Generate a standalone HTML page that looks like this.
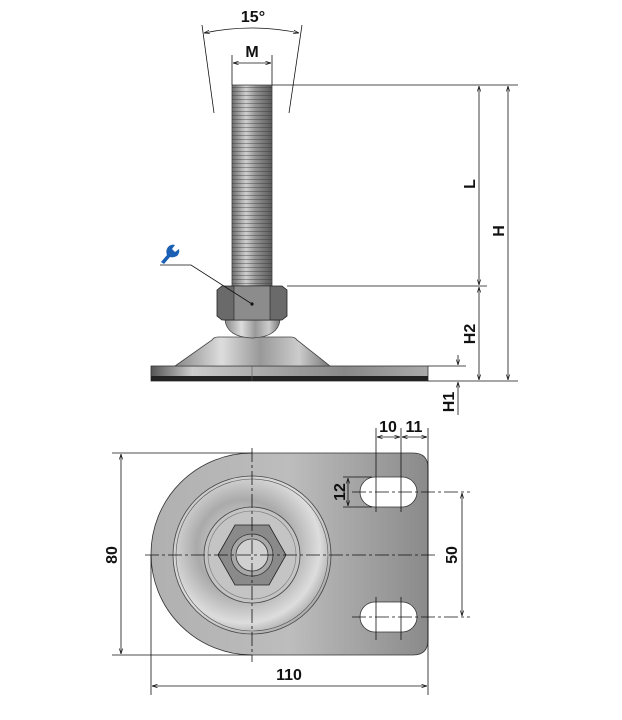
<!DOCTYPE html>
<html><head><meta charset="utf-8"><style>
html,body{margin:0;padding:0;background:#fff;}
svg{display:block;}
text{font-family:"Liberation Sans",sans-serif;font-weight:bold;font-size:16px;fill:#111;}
</style></head><body>
<svg width="622" height="720" viewBox="0 0 622 720" xmlns="http://www.w3.org/2000/svg">
<defs>
<linearGradient id="bolt" x1="0" x2="1" y1="0" y2="0">
<stop offset="0" stop-color="#6d6d6d"/><stop offset="0.35" stop-color="#cfcfcf"/><stop offset="0.6" stop-color="#939393"/><stop offset="1" stop-color="#5a5a5a"/></linearGradient>
<pattern id="thr" width="4" height="4" patternUnits="userSpaceOnUse"><rect width="4" height="4" fill="none"/><line x1="0" y1="3.5" x2="4" y2="3.5" stroke="#333" stroke-opacity="0.4" stroke-width="1"/></pattern>
<linearGradient id="cone" x1="0" x2="1"><stop offset="0" stop-color="#888"/><stop offset="0.3" stop-color="#ddd"/><stop offset="0.55" stop-color="#999"/><stop offset="0.8" stop-color="#ccc"/><stop offset="1" stop-color="#777"/></linearGradient>
<linearGradient id="plateS" x1="0" x2="1"><stop offset="0" stop-color="#555"/><stop offset="0.15" stop-color="#ccc"/><stop offset="0.4" stop-color="#aaa"/><stop offset="0.7" stop-color="#888"/><stop offset="1" stop-color="#aaa"/></linearGradient>
<linearGradient id="plateT" x1="0" x2="1"><stop offset="0" stop-color="#b0b0b0"/><stop offset="0.5" stop-color="#bdbdbd"/><stop offset="1" stop-color="#8a8a8a"/></linearGradient>
<radialGradient id="disc" cx="0.45" cy="0.45" r="0.6"><stop offset="0" stop-color="#eee"/><stop offset="0.5" stop-color="#aaa"/><stop offset="0.8" stop-color="#ddd"/><stop offset="1" stop-color="#999"/></radialGradient>
<marker id="a" viewBox="0 0 10 10" refX="10" refY="5" markerWidth="7" markerHeight="7" orient="auto-start-reverse"><path d="M0,2 L10,5 L0,8" fill="none" stroke="#111" stroke-width="1.2"/></marker>
</defs>

<rect x="151" y="366" width="277" height="15" fill="url(#plateS)" stroke="#333" stroke-width="0.8"/>
<rect x="151" y="376" width="277" height="5" fill="#222"/>
<line x1="252" y1="366" x2="252" y2="381" stroke="#555" stroke-width="0.6"/>
<path d="M175,366 L212,340 Q214,337 218,337 L291,337 Q295,337 297,340 L330,366 Z" fill="url(#cone)" stroke="#444" stroke-width="0.8"/>
<path d="M225,320 L280,320 Q278,337 252,338 Q227,337 225,320 Z" fill="url(#cone)" stroke="#444" stroke-width="0.8"/>
<rect x="232" y="85" width="40" height="201" fill="url(#bolt)" stroke="#444" stroke-width="0.8"/>
<rect x="232" y="87" width="40" height="199" fill="url(#thr)"/>
<path d="M217,290 L222,286 L282,286 L287,290 L287,316 L282,320 L222,320 L217,316 Z" fill="#6a6a6a" stroke="#222" stroke-width="0.8"/>
<rect x="234" y="286" width="36" height="34" fill="#8c8c8c" stroke="#222" stroke-width="0.6"/>
<path d="M160,265 L191,265 L252,304" fill="none" stroke="#111" stroke-width="0.8"/>
<circle cx="252" cy="304" r="1.6" fill="#111"/>
<path d="M161,262 L167,255 Q165,250 169,246 Q172,244 175,245 L172,249 L175,252 L179,249 Q180,253 177,256 Q173,258 170,257 L164,264 Z" fill="#1b5fb5"/>
<line x1="272" y1="85" x2="518" y2="85" stroke="#111" stroke-width="0.8"/>
<line x1="287" y1="286" x2="487" y2="286" stroke="#111" stroke-width="0.8"/>
<line x1="428" y1="381" x2="518" y2="381" stroke="#111" stroke-width="0.8"/>
<line x1="428" y1="366" x2="466" y2="366" stroke="#111" stroke-width="0.8"/>
<line x1="479" y1="86" x2="479" y2="285" stroke="#111" stroke-width="0.8" marker-start="url(#a)" marker-end="url(#a)"/>
<line x1="479" y1="287" x2="479" y2="380" stroke="#111" stroke-width="0.8" marker-start="url(#a)" marker-end="url(#a)"/>
<line x1="508" y1="86" x2="508" y2="380" stroke="#111" stroke-width="0.8" marker-start="url(#a)" marker-end="url(#a)"/>
<line x1="458" y1="355" x2="458" y2="365" stroke="#111" stroke-width="0.8" marker-end="url(#a)"/>
<line x1="458" y1="415" x2="458" y2="382" stroke="#111" stroke-width="0.8" marker-end="url(#a)"/>
<text transform="translate(475,184) rotate(-90)" text-anchor="middle">L</text>
<text transform="translate(504,231) rotate(-90)" text-anchor="middle">H</text>
<text transform="translate(475,334) rotate(-90)" text-anchor="middle">H2</text>
<text transform="translate(454,402) rotate(-90)" text-anchor="middle">H1</text>
<line x1="232" y1="55" x2="232" y2="85" stroke="#111" stroke-width="0.8"/>
<line x1="272" y1="55" x2="272" y2="85" stroke="#111" stroke-width="0.8"/>
<line x1="233" y1="63" x2="271" y2="63" stroke="#111" stroke-width="0.8" marker-start="url(#a)" marker-end="url(#a)"/>
<text x="252" y="57" text-anchor="middle">M</text>
<line x1="202" y1="25" x2="214" y2="113" stroke="#111" stroke-width="0.8"/>
<line x1="302" y1="25" x2="289" y2="113" stroke="#111" stroke-width="0.8"/>
<path d="M204,33 Q252,23 299,33" fill="none" stroke="#111" stroke-width="0.8" marker-start="url(#a)" marker-end="url(#a)"/>
<text x="253" y="22" text-anchor="middle">15°</text>

<path d="M252,453 L413,453 Q428,453 428,468 L428,640 Q428,655 413,655 L252,655 A101,101 0 0 1 252,453 Z" fill="url(#plateT)" stroke="#333" stroke-width="0.8"/>
<circle cx="252" cy="555" r="79" fill="url(#disc)" stroke="#444" stroke-width="0.8"/>
<circle cx="252" cy="555" r="76" fill="none" stroke="#555" stroke-width="0.6"/>
<circle cx="252" cy="555" r="48" fill="#c4c4c4" stroke="#444" stroke-width="0.8"/>
<circle cx="252" cy="555" r="44" fill="none" stroke="#777" stroke-width="0.6"/>
<path d="M218,555 L235,525 L269,525 L286,555 L269,585 L235,585 Z" fill="#8a8a8a" stroke="#222" stroke-width="0.8"/>
<circle cx="252" cy="555" r="21" fill="#a8a8a8" stroke="#333" stroke-width="0.8"/>
<circle cx="252" cy="555" r="16" fill="#d0d0d0" stroke="#333" stroke-width="0.8"/>
<rect x="360" y="477" width="57" height="30" rx="15" fill="#fff" stroke="#333" stroke-width="0.8"/>
<rect x="360" y="602" width="57" height="30" rx="15" fill="#fff" stroke="#333" stroke-width="0.8"/>
<g stroke="#111" stroke-width="0.8" stroke-dasharray="14,3,3,3">
<line x1="145" y1="555" x2="435" y2="555"/>
<line x1="252" y1="448" x2="252" y2="662"/>
<line x1="352" y1="492" x2="470" y2="492"/>
<line x1="352" y1="617" x2="470" y2="617"/>
</g>
<g stroke="#111" stroke-width="0.8" fill="none">
<line x1="112" y1="453" x2="252" y2="453"/>
<line x1="112" y1="655" x2="252" y2="655"/>
<line x1="151" y1="555" x2="151" y2="695"/>
<line x1="428" y1="428" x2="428" y2="695"/>
<line x1="376" y1="428" x2="376" y2="512"/>
<line x1="401" y1="428" x2="401" y2="512"/>
<line x1="376" y1="597" x2="376" y2="640"/>
<line x1="401" y1="597" x2="401" y2="640"/>
<line x1="343" y1="477" x2="372" y2="477"/>
<line x1="343" y1="507" x2="372" y2="507"/>
<line x1="121" y1="454" x2="121" y2="654" marker-start="url(#a)" marker-end="url(#a)"/>
<line x1="152" y1="686" x2="427" y2="686" marker-start="url(#a)" marker-end="url(#a)"/>
<line x1="462" y1="493" x2="462" y2="616" marker-start="url(#a)" marker-end="url(#a)"/>
<line x1="377" y1="437" x2="400" y2="437" marker-start="url(#a)" marker-end="url(#a)"/>
<line x1="402" y1="437" x2="427" y2="437" marker-start="url(#a)" marker-end="url(#a)"/>
<line x1="348" y1="478" x2="348" y2="506" marker-start="url(#a)" marker-end="url(#a)"/>
</g>
<text transform="translate(117,555) rotate(-90)" text-anchor="middle">80</text>
<text transform="translate(457,555) rotate(-90)" text-anchor="middle">50</text>
<text transform="translate(345,492) rotate(-90)" text-anchor="middle">12</text>
<text x="289" y="680" text-anchor="middle">110</text>
<text x="388" y="432" text-anchor="middle">10</text>
<text x="414" y="432" text-anchor="middle">11</text>
</svg>
</body></html>
